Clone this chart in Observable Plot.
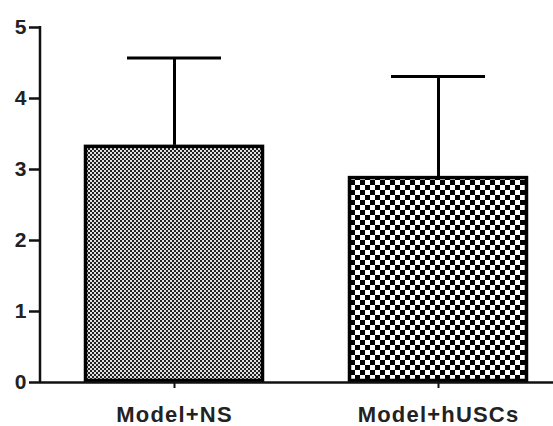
<!DOCTYPE html>
<html><head><meta charset="utf-8">
<script src="https://cdn.jsdelivr.net/npm/d3@7"></script>
<script src="https://cdn.jsdelivr.net/npm/@observablehq/plot@0.6"></script>
<style>body{margin:0;background:#fff}svg{display:block}</style>
</head><body><div id="chart"></div>
<script>
const groups = ["Model+NS", "Model+hUSCs"];
const means = [3.34, 2.90];
const sds = [1.23, 1.41];
const yTicks = [0, 1, 2, 3, 4, 5];

const data = groups.map((g, i) => ({group: g, mean: means[i], top: means[i] + sds[i]}));
const patterns = {"Model+NS": "url(#pFine)", "Model+hUSCs": "url(#pCoarse)"};

function yAxisLine(index, scales, values, dims) {
  const x0 = dims.marginLeft;
  return d3.create("svg:line")
    .attr("x1", x0).attr("x2", x0)
    .attr("y1", scales.y(yTicks[0]) + 1).attr("y2", scales.y(yTicks[yTicks.length - 1]) - 1)
    .attr("stroke", "#111").attr("stroke-width", 2.5).node();
}

const chart = Plot.plot({
  width: 553, height: 426,
  marginLeft: 40, marginRight: 0, marginTop: 27, marginBottom: 44,
  style: {fontFamily: "'Liberation Sans', Arial, sans-serif", background: "#fff", color: "#222"},
  x: {domain: groups, paddingInner: 0.32, paddingOuter: 0.128, align: 0.63, label: null},
  y: {domain: [0, 5], label: null},
  marks: [
    Plot.ruleX(data, {x: "group", y1: "mean", y2: "top", stroke: "#000", strokeWidth: 3}),
    Plot.tickY(data, {x: "group", y: "top", stroke: "#000", strokeWidth: 3, insetLeft: 43, insetRight: 43}),
    ...groups.map(g => Plot.barY(data.filter(d => d.group === g), {
      x: "group", y: "mean", fill: patterns[g], stroke: "#000", strokeWidth: 3.5, inset: 1.5
    })),
    Plot.axisY({ticks: yTicks, tickFormat: d3.format("d"), tickSize: 11, tickPadding: 3,
      fontSize: 21, fontWeight: "bold", strokeWidth: 2.5, stroke: "#111", fill: "#222", label: null}),
    yAxisLine,
    Plot.axisX({tickSize: 6, tickPadding: 18, fontSize: 22, fontWeight: "bold",
      strokeWidth: 2, stroke: "#111", fill: "#222", label: null}),
    Plot.ruleY([0], {stroke: "#111", strokeWidth: 2.5})
  ]
});

const ns = "http://www.w3.org/2000/svg";
const defs = document.createElementNS(ns, "defs");
defs.innerHTML = `
<pattern id="pFine" width="4" height="4" patternUnits="userSpaceOnUse">
  <rect width="4" height="4" fill="#e0e0e0"/>
  <rect x="0" y="0" width="2" height="2" fill="#222"/>
  <rect x="2" y="2" width="2" height="2" fill="#222"/>
</pattern>
<pattern id="pCoarse" width="10" height="10" patternUnits="userSpaceOnUse">
  <rect width="10" height="10" fill="#fff"/>
  <rect x="0" y="0" width="5" height="5" fill="#000"/>
  <rect x="5" y="5" width="5" height="5" fill="#000"/>
</pattern>`;
chart.insertBefore(defs, chart.firstChild);
chart.querySelectorAll('[aria-label="x-axis tick label"] text').forEach(t => t.setAttribute("letter-spacing", "1.2"));

document.getElementById("chart").appendChild(chart);
</script></body></html>
